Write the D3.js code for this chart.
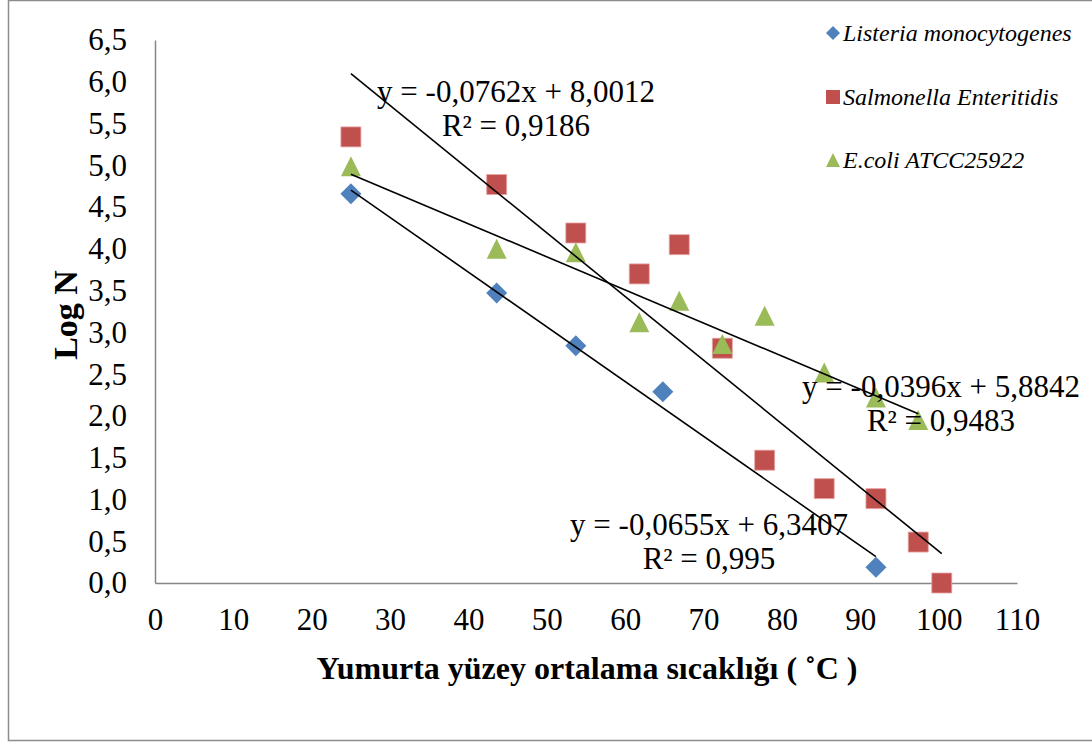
<!DOCTYPE html>
<html>
<head>
<meta charset="utf-8">
<script src="https://cdn.jsdelivr.net/npm/d3@7/dist/d3.min.js"></script>
<style>
  html, body { margin: 0; padding: 0; background: #fff; }
  svg { display: block; }
  text { font-family: "Liberation Serif", "Times New Roman", serif; fill: #000; }
</style>
</head>
<body>
<svg id="chart" width="1092" height="742"></svg>
<script>
// Mean egg surface temperature (°C) and log counts for each organism
const listeriaTemp = [25, 43.6, 53.7, 64.8, 92];
const listeriaLogN = [4.66, 3.47, 2.84, 2.29, 0.19];

const salmonellaTemp = [25, 43.6, 53.7, 61.8, 66.9, 72.4, 77.8, 85.4, 92, 97.4, 100.4];
const salmonellaLogN = [5.34, 4.77, 4.19, 3.70, 4.05, 2.81, 1.47, 1.13, 1.01, 0.49, 0.0];

const ecoliTemp = [25, 43.6, 53.7, 61.8, 66.9, 72.4, 77.8, 85.4, 92, 97.4];
const ecoliLogN = [4.99, 4.0, 3.96, 3.12, 3.38, 2.86, 3.2, 2.52, 2.22, 1.95];

// Linear trendlines: slope, intercept, R²
const seriesNames = ["Listeria monocytogenes", "Salmonella Enteritidis", "E.coli ATCC25922"];
const slopes = [-0.0655, -0.0762, -0.0396];
const intercepts = [6.3407, 8.0012, 5.8842];
const rSquared = ["0,995", "0,9186", "0,9483"];

const xTicks = d3.range(0, 111, 10);
const yTicks = d3.range(0, 6.51, 0.5);

const svg = d3.select("#chart");

// outer frame
svg.append("rect")
  .attr("x", 8.5).attr("y", 0.5)
  .attr("width", 1100).attr("height", 740)
  .attr("fill", "none").attr("stroke", "#8c8c8c").attr("stroke-width", 1.5);

const x = d3.scaleLinear().domain([0, 110]).range([155, 1017]);
const y = d3.scaleLinear().domain([0, 6.5]).range([583, 40]);

const comma = v => d3.format(".1f")(v).replace(".", ",");

// axes
const gx = svg.append("g").attr("transform", `translate(0,${y(0)})`)
  .call(d3.axisBottom(x).tickValues(xTicks).tickSize(0).tickSizeOuter(0).tickPadding(25));
const gy = svg.append("g").attr("transform", `translate(${x(0)},0)`)
  .call(d3.axisLeft(y).tickValues(yTicks).tickFormat(comma).tickSize(0).tickSizeOuter(0).tickPadding(28));
[gx, gy].forEach(g => {
  g.select(".domain").attr("stroke", "#868686").attr("stroke-width", 1.5);
  g.selectAll("text").attr("font-size", 31).attr("font-family", "Liberation Serif, Times New Roman, serif");
});

// axis titles
svg.append("text")
  .attr("x", 587).attr("y", 679)
  .attr("text-anchor", "middle")
  .attr("font-size", 32).attr("font-weight", "bold")
  .text("Yumurta yüzey ortalama sıcaklığı ( ˚C )");

svg.append("text")
  .attr("transform", "translate(77,315) rotate(-90)")
  .attr("text-anchor", "middle")
  .attr("font-size", 34).attr("font-weight", "bold")
  .text("Log N");

// marker shapes
const colors = ["#4F81BD", "#C0504D", "#9BBB59"];
function markerPath(kind, s) {
  const h = s / 2;
  if (kind === 0) return `M0,${-h}L${h},0L0,${h}L${-h},0Z`;
  if (kind === 1) return `M${-h},${-h}H${h}V${h}H${-h}Z`;
  return `M0,${-h}L${h},${h}L${-h},${h}Z`;
}

const temps = [listeriaTemp, salmonellaTemp, ecoliTemp];
const vals = [listeriaLogN, salmonellaLogN, ecoliLogN];

// points
temps.forEach((tArr, i) => {
  const pts = tArr.map((t, j) => [t, vals[i][j]]);
  svg.append("g").selectAll("path").data(pts).join("path")
    .attr("d", markerPath(i, i === 0 ? 21 : 20))
    .attr("transform", d => `translate(${x(d[0])},${y(d[1])})`)
    .attr("fill", colors[i])
    .attr("stroke", i === 1 ? "#e6a5a3" : "none")
    .attr("stroke-width", 0.8);
});

// trendlines over each series' temperature range
temps.forEach((tArr, i) => {
  const [x0, x1] = d3.extent(tArr);
  const f = t => slopes[i] * t + intercepts[i];
  svg.append("line")
    .attr("x1", x(x0)).attr("y1", y(f(x0)))
    .attr("x2", x(x1)).attr("y2", y(f(x1)))
    .attr("stroke", "#000").attr("stroke-width", 1.6);
});

// trendline equations
const eqFmt = v => d3.format(".4f")(Math.abs(v)).replace(".", ",");
const eqPos = [[709, 535], [516, 102], [941, 397]];
slopes.forEach((s, i) => {
  const t = svg.append("text")
    .attr("text-anchor", "middle").attr("font-size", 31);
  t.append("tspan").attr("x", eqPos[i][0]).attr("y", eqPos[i][1])
    .text(`y = -${eqFmt(s)}x + ${eqFmt(intercepts[i])}`);
  t.append("tspan").attr("x", eqPos[i][0]).attr("y", eqPos[i][1] + 34)
    .text(`R² = ${rSquared[i]}`);
});

// legend
const legY = [33, 97, 160];
seriesNames.forEach((name, i) => {
  svg.append("path")
    .attr("d", markerPath(i, 14))
    .attr("transform", `translate(833,${legY[i]})`)
    .attr("fill", colors[i]);
  svg.append("text")
    .attr("x", 843).attr("y", legY[i] + 8)
    .attr("font-size", 24).attr("font-style", "italic")
    .text(name);
});
</script>
</body>
</html>
